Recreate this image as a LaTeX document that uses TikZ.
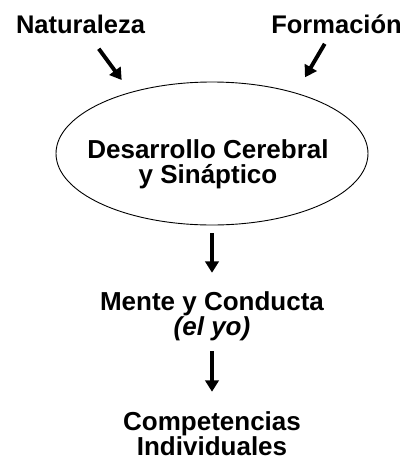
\documentclass[tikz,border=0pt]{standalone}
\usepackage{fontspec}
\setmainfont{Liberation Sans}
\usetikzlibrary{shapes.geometric,arrows.meta}

\begin{document}
\begin{tikzpicture}[x=1pt, y=-1pt,
  texto/.style = {inner sep=0pt, font=\fontsize{26}{25}\selectfont\bfseries, align=center},
  titulo/.style = {inner sep=0pt, font=\fontsize{25.5}{25}\selectfont\bfseries, anchor=base},
  flecha/.style = {line width=3.9pt, -{Triangle[length=11.5pt,width=13.5pt]}}]
\useasboundingbox (0,0) rectangle (412,459);

\node[titulo] (nat) at (80.5,33) {Naturaleza};
\node[titulo] (for) at (336.5,33) {Formación};
\coordinate (pL) at (121.7,80);
\coordinate (pR) at (305,77.3);
\draw[flecha, shorten <=19pt] (nat) -- (pL);
\draw[flecha, shorten <=12pt] (for) -- (pR);

%% el ovalo
\node[draw, line width=0.9pt, ellipse, minimum width=312pt, minimum height=143pt] (des) at (212,153.5) {};
\node[texto] (destxt) at (208,164) {Desarrollo Cerebral\\y Sináptico};

%% abajo
\node[texto] (men) at (212,316) {Mente y Conducta\\\textit{(el yo)}};
\node[texto] (com) at (212,433.5) {Competencias\\Individuales};

\draw[flecha, shorten <=8pt, shorten >=18.4pt] (des) -- (men);
\draw[flecha, shorten <=10.5pt, shorten >=19.5pt] (men) -- (com);
\end{tikzpicture}
\end{document}
